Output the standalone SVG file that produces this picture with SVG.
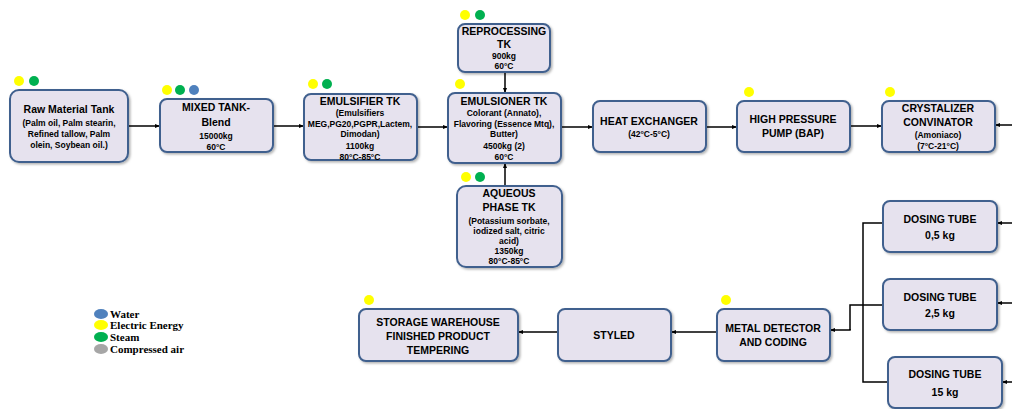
<svg xmlns="http://www.w3.org/2000/svg" width="1012" height="409" viewBox="0 0 1012 409">
<defs>
<marker id="ah" viewBox="0 0 10 10" refX="10" refY="5" markerWidth="5" markerHeight="5" orient="auto" markerUnits="userSpaceOnUse"><path d="M0,1 L10,5 L0,9 z" fill="#000"/></marker>
<filter id="sh" x="-10%" y="-10%" width="130%" height="130%"><feDropShadow dx="1.5" dy="1.5" stdDeviation="1" flood-color="#000" flood-opacity="0.3"/></filter>
</defs>
<style>
.box{fill:#E6E2EE;stroke:#40608E;stroke-width:2;filter:url(#sh)}
.t{font-family:"Liberation Sans",Arial,sans-serif;font-weight:bold;text-anchor:middle;fill:#000}
.h{font-size:10.5px}
.s{font-size:8.5px}
.c{fill:none;stroke:#000;stroke-width:1.5}
.ca{fill:none;stroke:#000;stroke-width:1.5;marker-end:url(#ah)}
.y{fill:#FFFF00}.g{fill:#00B050}.b{fill:#4F81BD}.gr{fill:#A6A6A6}
.lg{font-family:"Liberation Serif","Times New Roman",serif;font-weight:bold;font-size:11px;fill:#000}
</style>
<rect width="1012" height="409" fill="#fff"/>

<g id="connectors">
<path class="ca" d="M128,126 H160"/>
<path class="ca" d="M273,126 H304"/>
<path class="ca" d="M417,127 H448"/>
<path class="ca" d="M561,127 H593"/>
<path class="ca" d="M706,127 H737"/>
<path class="ca" d="M850,126 H882"/>
<path class="ca" d="M1012,125 H995"/>
<path class="ca" d="M505,72 V93"/>
<path class="ca" d="M505,186 V163"/>
<path class="ca" d="M1012,223 H997"/>
<path class="ca" d="M1012,303 H997"/>
<path class="ca" d="M1012,382 H1002"/>
<path class="c" d="M883,223 H863 V382 H888"/>
<path class="c" d="M883,305 H850 V330"/>
<path class="ca" d="M850,329 V330 H830"/>
<path class="ca" d="M717,332 H671"/>
<path class="ca" d="M558,332 H518"/>
</g>

<g id="raw-material-tank">
<circle class="y" cx="19" cy="81" r="5"/><circle class="g" cx="34" cy="81" r="5"/>
<rect class="box" x="10" y="90" width="118" height="72" rx="9"/>
<text class="t h" x="69" y="113">Raw Material Tank</text>
<text class="t s" x="69" y="126">(Palm oil, Palm stearin,</text>
<text class="t s" x="69" y="137">Refined tallow, Palm</text>
<text class="t s" x="69" y="148">olein, Soybean oil.)</text>
</g>

<g id="mixed-tank">
<circle class="y" cx="167" cy="90" r="5"/><circle class="g" cx="180" cy="90" r="5"/><circle class="b" cx="194" cy="90" r="5"/>
<rect class="box" x="160" y="99" width="113" height="53" rx="7"/>
<text class="t h" x="216" y="111">MIXED TANK-</text>
<text class="t h" x="216" y="126">Blend</text>
<text class="t s" x="216" y="139">15000kg</text>
<text class="t s" x="216" y="150">60°C</text>
</g>

<g id="emulsifier-tk">
<circle class="y" cx="313" cy="84" r="5"/><circle class="g" cx="327" cy="84" r="5"/>
<rect class="box" x="304" y="94" width="113" height="66" rx="7"/>
<text class="t h" x="360" y="105">EMULSIFIER TK</text>
<text class="t s" x="360" y="116">(Emulsifiers</text>
<text class="t s" x="360" y="126.5">MEG,PG20,PGPR,Lactem,</text>
<text class="t s" x="360" y="137">Dimodan)</text>
<text class="t s" x="360" y="149">1100kg</text>
<text class="t s" x="360" y="160">80°C-85°C</text>
</g>

<g id="emulsioner-tk">
<circle class="y" cx="460" cy="84" r="5"/>
<rect class="box" x="448" y="93" width="113" height="70" rx="7"/>
<text class="t h" x="504" y="105">EMULSIONER TK</text>
<text class="t s" x="504" y="116">Colorant (Annato),</text>
<text class="t s" x="504" y="126.5">Flavoring (Essence Mtq),</text>
<text class="t s" x="504" y="137">Butter)</text>
<text class="t s" x="504" y="149">4500kg (2)</text>
<text class="t s" x="504" y="160">60°C</text>
</g>

<g id="reprocessing-tk">
<circle class="y" cx="465" cy="15" r="5"/><circle class="g" cx="480" cy="15" r="5"/>
<rect class="box" x="458" y="24" width="92" height="48" rx="7"/>
<text class="t h" x="504" y="35">REPROCESSING</text>
<text class="t h" x="504" y="48">TK</text>
<text class="t s" x="504" y="59">900kg</text>
<text class="t s" x="504" y="69">60°C</text>
</g>

<g id="aqueous-phase-tk">
<circle class="y" cx="466" cy="177" r="5"/><circle class="g" cx="480" cy="177" r="5"/>
<rect class="box" x="457" y="186" width="105" height="81" rx="9"/>
<text class="t h" x="509" y="197">AQUEOUS</text>
<text class="t h" x="509" y="211">PHASE TK</text>
<text class="t s" x="509" y="224">(Potassium sorbate,</text>
<text class="t s" x="509" y="234">iodized salt, citric</text>
<text class="t s" x="509" y="244">acid)</text>
<text class="t s" x="509" y="254">1350kg</text>
<text class="t s" x="509" y="264">80°C-85°C</text>
</g>

<g id="heat-exchanger">
<rect class="box" x="593" y="101" width="113" height="51" rx="7"/>
<text class="t h" x="649" y="125">HEAT EXCHANGER</text>
<text class="t s" x="649" y="137">(42°C-5°C)</text>
</g>

<g id="high-pressure-pump">
<circle class="y" cx="749" cy="92" r="5"/>
<rect class="box" x="737" y="101" width="113" height="51" rx="7"/>
<text class="t h" x="793" y="123">HIGH PRESSURE</text>
<text class="t h" x="793" y="137">PUMP (BAP)</text>
</g>

<g id="crystalizer-convinator">
<circle class="y" cx="890" cy="92" r="5"/>
<rect class="box" x="882" y="101" width="113" height="51" rx="7"/>
<text class="t h" x="938" y="112">CRYSTALIZER</text>
<text class="t h" x="938" y="126">CONVINATOR</text>
<text class="t s" x="938" y="138">(Amoniaco)</text>
<text class="t s" x="938" y="149">(7°C-21°C)</text>
</g>

<g id="dosing-tube-05">
<rect class="box" x="883" y="201" width="114" height="51" rx="7"/>
<text class="t h" x="940" y="223">DOSING TUBE</text>
<text class="t h" x="940" y="239">0,5 kg</text>
</g>

<g id="dosing-tube-25">
<rect class="box" x="883" y="279" width="114" height="51" rx="7"/>
<text class="t h" x="940" y="301">DOSING TUBE</text>
<text class="t h" x="940" y="317">2,5 kg</text>
</g>

<g id="dosing-tube-15">
<rect class="box" x="888" y="357" width="114" height="51" rx="7"/>
<text class="t h" x="945" y="378">DOSING TUBE</text>
<text class="t h" x="945" y="396">15 kg</text>
</g>

<g id="metal-detector">
<circle class="y" cx="726" cy="300" r="5"/>
<rect class="box" x="717" y="309" width="113" height="52" rx="7"/>
<text class="t h" x="773" y="332">METAL DETECTOR</text>
<text class="t h" x="773" y="346">AND CODING</text>
</g>

<g id="styled">
<rect class="box" x="558" y="309" width="113" height="52" rx="7"/>
<text class="t h" x="614" y="339">STYLED</text>
</g>

<g id="storage-warehouse">
<circle class="y" cx="369" cy="300" r="5"/>
<rect class="box" x="359" y="309" width="159" height="52" rx="7"/>
<text class="t h" x="438" y="325.5">STORAGE WAREHOUSE</text>
<text class="t h" x="438" y="340">FINISHED PRODUCT</text>
<text class="t h" x="438" y="354">TEMPERING</text>
</g>

<g id="legend">
<ellipse class="b" cx="101" cy="314" rx="7" ry="5"/>
<ellipse class="y" cx="101" cy="325" rx="7" ry="5"/>
<ellipse class="g" cx="101" cy="337" rx="7" ry="5"/>
<ellipse class="gr" cx="101" cy="349" rx="7" ry="5"/>
<text class="lg" x="110" y="318">Water</text>
<text class="lg" x="110" y="329">Electric Energy</text>
<text class="lg" x="110" y="341">Steam</text>
<text class="lg" x="110" y="353">Compressed air</text>
</g>
</svg>
